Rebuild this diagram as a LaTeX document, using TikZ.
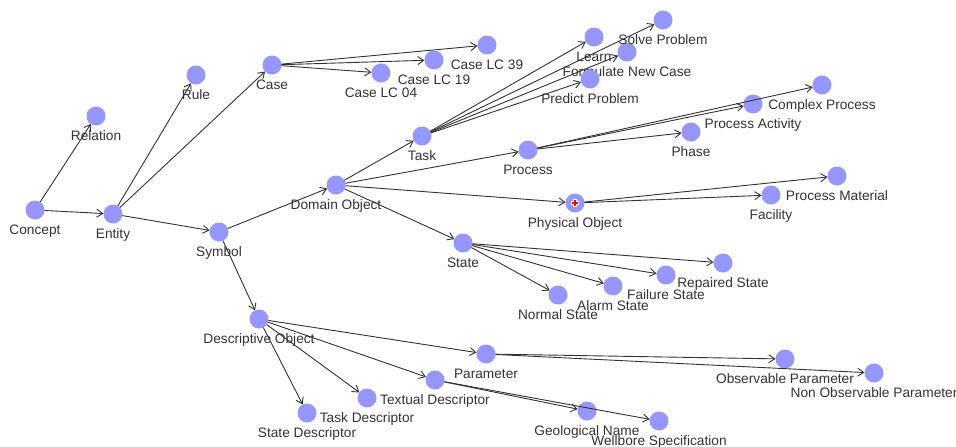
\documentclass[tikz,border=0pt]{standalone}
\usepackage{fontspec}
\setmainfont{Liberation Sans}
\usetikzlibrary{arrows.meta}
\definecolor{vtxblue}{RGB}{150,150,255}
\definecolor{inkgrey}{RGB}{51,51,51}
\tikzset{>={Straight Barb[length=6pt,width=8pt]}}
\tikzset{
  vertex/.style={circle,fill=vtxblue,minimum size=19pt,inner sep=0pt,outer sep=0pt},
  lbl/.style={font=\fontsize{13.7}{16}\selectfont,text=inkgrey,inner sep=0pt,text height=10pt,text depth=3pt,yshift=-5pt},
  edge/.style={->,draw=inkgrey,line width=0.9pt}
}

\begin{document}
\begin{tikzpicture}[x=1pt,y=-1pt]
                \fill[white] (0,0) rectangle (956,447);
                \useasboundingbox (0,0) rectangle (956,447);

                % Top of the tree
                \node[vertex,label={[lbl]below:Concept}] (concept) at (35,210) {};
                \node[vertex,label={[lbl]below:Relation}] (relation) at (96,116) {};
                \node[vertex,label={[lbl]below:Entity}] (entity) at (113,214) {};
                \node[vertex,label={[lbl]below:Rule}] (rule) at (196,75) {};
                \node[vertex,label={[lbl]below:Case}] (case) at (272,65) {};
                \node[vertex,label={[lbl]below:Symbol}] (symbol) at (219,232) {};

                % Cases
                \node[vertex,label={[lbl]below:Case LC 04}] (lc04) at (381,73) {};
                \node[vertex,label={[lbl]below:Case LC 19}] (lc19) at (434,60) {};
                \node[vertex,label={[lbl]below:Case LC 39}] (lc39) at (487,45) {};

                % Domain objects
                \node[vertex,label={[lbl]below:Domain Object}] (domobj) at (336,185) {};
                \node[vertex,label={[lbl]below:Task}] (task) at (422,136) {};
                \node[vertex,label={[lbl]below:Process}] (process) at (528,150) {};
                \node[vertex,label={[lbl]below:Physical Object}] (physobj) at (575,203) {};
                \node[vertex,label={[lbl]below:State}] (state) at (463,243) {};

                % Tasks
                \node[vertex,label={[lbl]below:Learn}] (learn) at (594,37) {};
                \node[vertex,label={[lbl]below:Formulate New Case}] (formulate) at (627,52) {};
                \node[vertex,label={[lbl]below:Predict Problem}] (predict) at (590,79) {};
                \node[vertex,label={[lbl]below:Solve Problem}] (solve) at (663,20) {};

                % Processes
                \node[vertex,label={[lbl]below:Complex Process}] (complex) at (822,85) {};
                \node[vertex,label={[lbl]below:Process Activity}] (activity) at (753,104) {};
                \node[vertex,label={[lbl]below:Phase}] (phase) at (691,132) {};

                % Physical objects
                \node[vertex,label={[lbl]below:Process Material}] (material) at (837,176) {};
                \node[vertex,label={[lbl]below:Facility}] (facility) at (771,195) {};

                % States
                \node[vertex,label={[lbl]below:Normal State}] (normal) at (558,295) {};
                \node[vertex,label={[lbl]below:Alarm State}] (alarm) at (613,286) {};
                \node[vertex,label={[lbl]below:Failure State}] (failure) at (666,275) {};
                \node[vertex,label={[lbl]below:Repaired State}] (repaired) at (723,263) {};

                % Descriptive objects
                \node[vertex,label={[lbl]below:Descriptive Object}] (descobj) at (259,319) {};
                \node[vertex,label={[lbl]below:State Descriptor}] (statedesc) at (307,413) {};
                \node[vertex,label={[lbl]below:Task Descriptor}] (taskdesc) at (367,398) {};
                \node[vertex,label={[lbl]below:Textual Descriptor}] (textdesc) at (435,380) {};
                \node[vertex,label={[lbl]below:Parameter}] (parameter) at (486,354) {};
                \node[vertex,label={[lbl]below:Observable Parameter}] (observable) at (785,359) {};
                \node[vertex,label={[lbl]below:Non Observable Parameter}] (nonobs) at (874,373) {};
                \node[vertex,label={[lbl]below:Geological Name}] (geoname) at (587,411) {};
                \node[vertex,label={[lbl]below:Wellbore Specification}] (wellbore) at (659,421) {};

                % marker on Physical Object
                \draw[white,line width=4pt] ([xshift=-4pt]physobj.center) -- ([xshift=4pt]physobj.center)
                    ([yshift=-4pt]physobj.center) -- ([yshift=4pt]physobj.center);
                \draw[red,line width=1.8pt] ([xshift=-3.2pt]physobj.center) -- ([xshift=3.2pt]physobj.center)
                    ([yshift=-3.2pt]physobj.center) -- ([yshift=3.2pt]physobj.center);

                % Concept and Entity
                \draw[edge] (concept) -- (relation);
                \draw[edge] (concept) -- (entity);
                \draw[edge] (entity) -- (rule);
                \draw[edge] (entity) -- (case);
                \draw[edge] (entity) -- (symbol);

                % Case to its cases
                \draw[edge] (case) -- (lc04);
                \draw[edge] (case) -- (lc19);
                \draw[edge] (case) -- (lc39);

                % Symbol
                \draw[edge] (symbol) -- (domobj);
                \draw[edge] (symbol) -- (descobj);

                % Domain Object
                \draw[edge] (domobj) -- (task);
                \draw[edge] (domobj) -- (process);
                \draw[edge] (domobj) -- (physobj);
                \draw[edge] (domobj) -- (state);

                % Task
                \draw[edge] (task) -- (learn);
                \draw[edge] (task) -- (solve);
                \draw[edge] (task) -- (formulate);
                \draw[edge] (task) -- (predict);

                % Process
                \draw[edge] (process) -- (complex);
                \draw[edge] (process) -- (activity);
                \draw[edge] (process) -- (phase);

                % Physical Object
                \draw[edge] (physobj) -- (material);
                \draw[edge] (physobj) -- (facility);

                % State
                \draw[edge] (state) -- (normal);
                \draw[edge] (state) -- (alarm);
                \draw[edge] (state) -- (failure);
                \draw[edge] (state) -- (repaired);

                % Descriptive Object
                \draw[edge] (descobj) -- (statedesc);
                \draw[edge] (descobj) -- (taskdesc);
                \draw[edge] (descobj) -- (textdesc);
                \draw[edge] (descobj) -- (parameter);

                % Parameter
                \draw[edge] (parameter) -- (observable);
                \draw[edge] (parameter) -- (nonobs);

                % Textual Descriptor
                \draw[edge] (textdesc) -- (geoname);
                \draw[edge] (textdesc) -- (wellbore);
            \end{tikzpicture}
\end{document}
